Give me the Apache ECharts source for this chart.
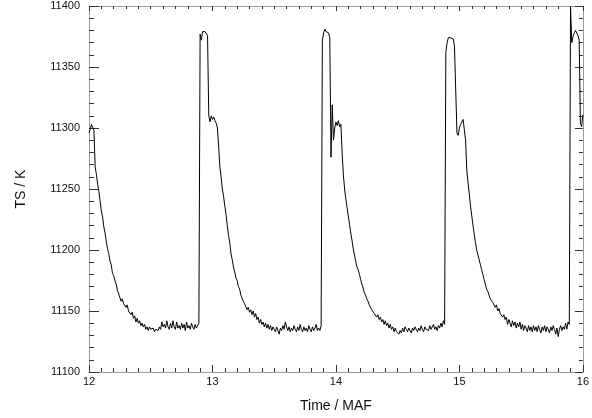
<!DOCTYPE html>
<html>
<head>
<meta charset="utf-8">
<script src="https://cdn.jsdelivr.net/npm/echarts@6/dist/echarts.min.js"></script>
<style>
  html, body { margin: 0; padding: 0; background: #fff; }
  #main { width: 592px; height: 418px; }
</style>
</head>
<body>
<div id="main"></div>
<script>
// 采样起点和步长 (Time / MAF)
const tStart = 12;
const tStep = 0.01;

// TS / K, one row per 0.1 MAF
const tsValues = [
  11296, 11299, 11303, 11302, 11298, 11268, 11262, 11254, 11248, 11240, // 12.0
  11232, 11227, 11219, 11214, 11207, 11201, 11197, 11191, 11188, 11181, // 12.1
  11179, 11175, 11172, 11167, 11166, 11161, 11158, 11160, 11156, 11157, // 12.2
  11153, 11155, 11150, 11151, 11147, 11149, 11144, 11146, 11141, 11144, // 12.3
  11140, 11142, 11138, 11140, 11137, 11139, 11135, 11137, 11134, 11137, // 12.4
  11135, 11134, 11136, 11133, 11135, 11136, 11134, 11137, 11135, 11141, // 12.5
  11137, 11139, 11136, 11142, 11137, 11135, 11140, 11136, 11142, 11137, // 12.6
  11135, 11141, 11136, 11138, 11135, 11140, 11136, 11139, 11134, 11141, // 12.7
  11136, 11138, 11135, 11140, 11137, 11135, 11139, 11136, 11137, 11140, // 12.8
  11377, 11372, 11379, 11380, 11379, 11380, 11376, 11310, 11305, 11310, // 12.9
  11307, 11309, 11306, 11304, 11300, 11285, 11268, 11260, 11250, 11244, // 13.0
  11236, 11229, 11220, 11212, 11206, 11197, 11192, 11186, 11182, 11177, // 13.1
  11175, 11170, 11168, 11163, 11162, 11158, 11156, 11157, 11151, 11153, // 13.2
  11149, 11151, 11147, 11150, 11145, 11148, 11143, 11145, 11140, 11143, // 13.3
  11139, 11141, 11137, 11140, 11136, 11139, 11135, 11138, 11134, 11137, // 13.4
  11135, 11133, 11137, 11134, 11131, 11136, 11134, 11138, 11135, 11141, // 13.5
  11137, 11134, 11137, 11133, 11136, 11134, 11138, 11135, 11133, 11137, // 13.6
  11134, 11139, 11135, 11133, 11137, 11134, 11136, 11133, 11138, 11135, // 13.7
  11133, 11137, 11134, 11136, 11139, 11134, 11136, 11134, 11138, 11372, // 13.8
  11378, 11381, 11379, 11380, 11378, 11374, 11276, 11319, 11290, 11300, // 13.9
  11305, 11302, 11306, 11301, 11303, 11280, 11262, 11250, 11242, 11235, // 14.0
  11228, 11221, 11214, 11208, 11201, 11196, 11191, 11186, 11184, 11180, // 14.1
  11176, 11172, 11169, 11165, 11163, 11160, 11158, 11155, 11155, 11151, // 14.2
  11152, 11148, 11149, 11145, 11147, 11143, 11145, 11141, 11143, 11139, // 14.3
  11142, 11138, 11140, 11136, 11139, 11135, 11137, 11133, 11136, 11133, // 14.4
  11134, 11131, 11134, 11132, 11136, 11133, 11137, 11135, 11133, 11136, // 14.5
  11134, 11132, 11136, 11134, 11137, 11135, 11133, 11136, 11134, 11138, // 14.6
  11135, 11133, 11137, 11135, 11136, 11134, 11138, 11135, 11137, 11139, // 14.7
  11135, 11137, 11134, 11138, 11136, 11140, 11137, 11142, 11139, 11362, // 14.8
  11370, 11374, 11375, 11374, 11375, 11373, 11367, 11366, 11296, 11294, // 14.9
  11300, 11303, 11305, 11307, 11306, 11290, 11265, 11255, 11246, 11236, // 15.0
  11228, 11220, 11213, 11206, 11200, 11196, 11192, 11188, 11184, 11180, // 15.1
  11176, 11172, 11168, 11166, 11163, 11160, 11161, 11157, 11156, 11153, // 15.2
  11155, 11150, 11152, 11148, 11149, 11145, 11147, 11143, 11145, 11139, // 15.3
  11143, 11140, 11137, 11142, 11138, 11141, 11136, 11140, 11137, 11141, // 15.4
  11135, 11139, 11134, 11138, 11136, 11133, 11138, 11134, 11137, 11133, // 15.5
  11138, 11134, 11137, 11133, 11138, 11135, 11132, 11137, 11134, 11138, // 15.6
  11133, 11137, 11135, 11132, 11137, 11134, 11138, 11135, 11131, 11136, // 15.7
  11129, 11135, 11138, 11134, 11137, 11135, 11140, 11135, 11141, 11139, // 15.8
  11399, 11370, 11375, 11378, 11380, 11379, 11376, 11372, 11304, 11301, // 15.9
  11311                                                                 // 16.0
];

// 坐标轴范围
const xTicks = [12, 13, 14, 15, 16];
const yTicks = [11100, 11150, 11200, 11250, 11300, 11350, 11400];

const data = [];
for (let i = 0; i < tsValues.length; i++) {
  data.push([+(tStart + i * tStep).toFixed(2), tsValues[i]]);
}

const font = 'Liberation Sans, Arial, Helvetica, sans-serif';
const frameColor = '#9a9a9a';
const tickColor = '#333';

function xAxisBase(pos, showLabel, majorLen, minorLen) {
  return {
    type: 'value',
    position: pos,
    min: xTicks[0],
    max: xTicks[xTicks.length - 1],
    interval: 1,
    axisLine: { show: true, onZero: false, lineStyle: { color: frameColor, width: 1 } },
    axisTick: { show: true, inside: true, length: majorLen, lineStyle: { color: tickColor } },
    minorTick: { show: true, splitNumber: 10, length: minorLen, lineStyle: { color: tickColor } },
    splitLine: { show: false },
    axisLabel: { show: showLabel, color: '#111', fontSize: 11, fontFamily: font, margin: 4,
      formatter: v => String(v) }
  };
}

function yAxisBase(pos, showLabel, majorLen, minorLen) {
  return {
    type: 'value',
    position: pos,
    min: yTicks[0],
    max: yTicks[yTicks.length - 1],
    interval: 50,
    axisLine: { show: true, onZero: false, lineStyle: { color: frameColor, width: 1 } },
    axisTick: { show: true, inside: true, length: majorLen, lineStyle: { color: tickColor } },
    minorTick: { show: true, splitNumber: 5, length: minorLen, lineStyle: { color: tickColor } },
    splitLine: { show: false },
    axisLabel: { show: showLabel, color: '#111', fontSize: 11, fontFamily: font, margin: 9,
      formatter: v => String(v) }
  };
}

const chart = echarts.init(document.getElementById('main'), null, { renderer: 'canvas' });

const xBottom = xAxisBase('bottom', true, 7, 4);
xBottom.name = 'Time / MAF';
xBottom.nameLocation = 'middle';
xBottom.nameGap = 27;
xBottom.nameTextStyle = { color: '#111', fontSize: 14, fontFamily: font };

const yLeft = yAxisBase('left', true, 10, 5);
yLeft.name = 'TS / K';
yLeft.nameLocation = 'middle';
yLeft.nameGap = 61;
yLeft.nameTextStyle = { color: '#111', fontSize: 14, fontFamily: font };

const option = {
  animation: false,
  backgroundColor: '#fff',
  grid: { left: 89, right: 4, top: 6, bottom: 45, containLabel: false },
  xAxis: [xBottom, xAxisBase('top', false, 5, 3)],
  yAxis: [yLeft, yAxisBase('right', false, 8, 4)],
  series: [
    {
      type: 'line',
      xAxisIndex: 0,
      yAxisIndex: 0,
      data: data,
      showSymbol: false,
      smooth: false,
      lineStyle: { color: '#000', width: 1 },
      clip: true
    }
  ]
};

chart.setOption(option);
</script>
</body>
</html>
